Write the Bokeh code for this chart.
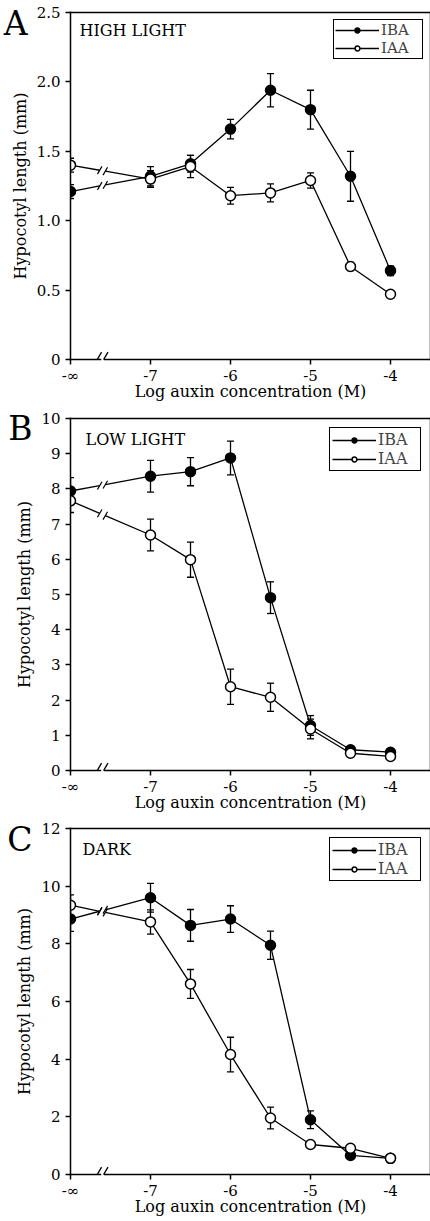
import numpy as np
from bokeh.plotting import figure
from bokeh.models import FixedTicker, Label, Legend, LegendItem, Range1d, LinearAxis
from bokeh.layouts import column
from bokeh.embed import file_html
from bokeh.resources import INLINE

# ---------------- data ----------------
# x positions: log auxin concentration; the no-auxin control ("-∞") is drawn at -8
X_POS = [-8, -7, -6.5, -6, -5.5, -5, -4.5, -4]
X_TICKS = [-8, -7, -6, -5, -4]
X_TICK_LABELS = ["-∞", "-7", "-6", "-5", "-4"]

# A: high light
A_IBA = [1.21, 1.32, 1.41, 1.66, 1.94, 1.80, 1.32, 0.64]
A_IBA_ERR = [0.05, 0.07, 0.06, 0.07, 0.12, 0.14, 0.18, 0.035]
A_IAA = [1.40, 1.30, 1.39, 1.18, 1.20, 1.29, 0.67, 0.47]
A_IAA_ERR = [0.05, 0.06, 0.08, 0.06, 0.065, 0.055, 0.03, 0.02]
A_Y_TICKS = [0, 0.5, 1.0, 1.5, 2.0, 2.5]
A_Y_LABELS = ["0", "0.5", "1.0", "1.5", "2.0", "2.5"]

# B: low light
B_IBA = [7.94, 8.36, 8.49, 8.88, 4.91, 1.28, 0.59, 0.52]
B_IBA_ERR = [0.38, 0.45, 0.40, 0.48, 0.45, 0.28, 0.05, 0.05]
B_IAA = [7.66, 6.69, 5.99, 2.38, 2.08, 1.18, 0.49, 0.40]
B_IAA_ERR = [0.33, 0.45, 0.50, 0.50, 0.40, 0.28, 0.05, 0.05]
B_Y_TICKS = [0, 1, 2, 3, 4, 5, 6, 7, 8, 9, 10]
B_Y_LABELS = ["0", "1", "2", "3", "4", "5", "6", "7", "8", "9", "10"]

# C: dark
C_IBA = [8.86, 9.60, 8.64, 8.86, 7.95, 1.90, 0.66, 0.56]
C_IBA_ERR = [0.43, 0.50, 0.55, 0.46, 0.49, 0.31, 0.05, 0.05]
C_IAA = [9.34, 8.76, 6.61, 4.16, 1.96, 1.04, 0.91, 0.56]
C_IAA_ERR = [0.36, 0.42, 0.50, 0.60, 0.38, 0.05, 0.05, 0.05]
C_Y_TICKS = [0, 2, 4, 6, 8, 10, 12]
C_Y_LABELS = ["0", "2", "4", "6", "8", "10", "12"]

SERIES = ["IBA", "IAA"]
X_LABEL = "Log auxin concentration (M)"
Y_LABEL = "Hypocotyl length (mm)"

FONT = "DejaVu Serif"
BREAK_X = -7.6
GAP = 0.035      # gap in data lines at the break
GAP_AX = 0.03    # gap in the x axis line at the break
X_END = -3.5
BOTTOM = 40


def draw_series(p, y, err, fill):
    xs = np.array(X_POS, dtype=float)
    y = np.array(y, dtype=float)
    err = np.array(err, dtype=float)
    p.segment(x0=xs, y0=y - err, x1=xs, y1=y + err, line_color="black", line_width=1.3)
    p.scatter(np.concatenate([xs, xs]), np.concatenate([y - err, y + err]), marker="dash",
              size=7, line_color="black", line_width=1.3)
    main = p.line(xs[1:], y[1:], line_color="black", line_width=1.3)

    def yi(x):
        return y[0] + (y[1] - y[0]) * (x - xs[0]) / (xs[1] - xs[0])
    xa, xb = BREAK_X - GAP, BREAK_X + GAP
    p.line([xs[0], xa], [y[0], yi(xa)], line_color="black", line_width=1.3)
    p.line([xb, xs[1]], [yi(xb), y[1]], line_color="black", line_width=1.3)
    p.scatter([xa, xb], [yi(xa), yi(xb)], marker="dash", size=9, angle=np.pi / 3,
              line_color="black", line_width=1.2)
    pts = p.scatter(xs, y, size=10, marker="circle", fill_color=fill,
                    line_color="black", line_width=1.5)
    return main, pts


def base_style(ax):
    ax.axis_line_width = 1.5
    ax.axis_line_color = "black"
    ax.axis_line_cap = "square"
    ax.major_tick_line_width = 1.5
    ax.major_tick_line_color = "black"
    ax.major_tick_in = 0
    ax.major_tick_out = 5
    ax.minor_tick_line_color = None
    ax.major_label_text_font = FONT
    ax.major_label_text_font_size = "15px"
    ax.major_label_text_color = "black"
    ax.axis_label_text_font = FONT
    ax.axis_label_text_font_size = "16px"
    ax.axis_label_text_font_style = "normal"
    ax.axis_label_text_color = "black"


def line_only_axis(bounds="auto"):
    ax = LinearAxis(ticker=FixedTicker(ticks=[]), bounds=bounds)
    base_style(ax)
    ax.major_tick_out = 0
    ax.major_label_standoff = 0
    ax.major_label_text_font_size = "1px"
    return ax


def panel(letter, title, ymax, yticks, ylabels, iba, iba_err, iaa, iaa_err,
          fh, top, letter_dy, title_dx, title_dy, leg_font, leg_pad, leg_margin):
    p = figure(frame_width=360, frame_height=fh, x_range=Range1d(-8, X_END),
               y_range=Range1d(0, ymax), x_axis_type=None, y_axis_type=None,
               output_backend="svg", toolbar_location=None,
               min_border_left=68, min_border_right=2, min_border_top=top,
               min_border_bottom=BOTTOM)
    p.outline_line_color = None

    # ---- left: y axis, then panel letter (outermost)
    yax = LinearAxis(ticker=FixedTicker(ticks=yticks),
                     major_label_overrides=dict(zip(yticks, ylabels)), axis_label=Y_LABEL)
    base_style(yax)
    yax.major_label_standoff = 5
    yax.axis_label_standoff = 4
    p.add_layout(yax, "left")

    lt = ymax * (1 - letter_dy / fh)
    lax = LinearAxis(ticker=FixedTicker(ticks=[lt]), major_label_overrides={lt: letter})
    base_style(lax)
    lax.axis_line_color = None
    lax.major_tick_line_color = None
    lax.major_tick_out = 0
    lax.major_label_standoff = -20
    lax.major_label_text_font_size = "33px"
    p.add_layout(lax, "left")

    # ---- bottom: broken axis line, then ticks + labels
    p.add_layout(line_only_axis((BREAK_X + GAP_AX, X_END)), "below")
    p.add_layout(line_only_axis((-8, BREAK_X - GAP_AX)), "below")
    xax = LinearAxis(ticker=FixedTicker(ticks=X_TICKS),
                     major_label_overrides=dict(zip(X_TICKS, X_TICK_LABELS)),
                     axis_label=X_LABEL)
    base_style(xax)
    xax.axis_line_color = None
    xax.major_label_standoff = 2
    xax.axis_label_standoff = -6
    p.add_layout(xax, "below")

    # ---- frame lines on top and right
    p.add_layout(line_only_axis(), "above")
    p.add_layout(line_only_axis(), "right")

    # break marks sitting on the x axis
    yb = ymax * 3.5 / fh
    p.scatter([BREAK_X - GAP_AX - 0.01, BREAK_X + GAP_AX + 0.01], [yb, yb], marker="dash",
              size=9, angle=np.pi / 3, line_color="black", line_width=1.3)

    r_iba = draw_series(p, iba, iba_err, "black")
    r_iaa = draw_series(p, iaa, iaa_err, "white")

    legend = Legend(items=[LegendItem(label=SERIES[0], renderers=list(r_iba)),
                           LegendItem(label=SERIES[1], renderers=list(r_iaa))],
                    location="top_right", border_line_color="black", border_line_width=1.5,
                    border_line_alpha=1, background_fill_alpha=1, label_text_font=FONT,
                    label_text_font_size=leg_font, glyph_width=44, glyph_height=12,
                    label_height=12, label_width=40, label_standoff=2, padding=leg_pad,
                    spacing=0, margin=leg_margin)
    p.add_layout(legend)

    p.add_layout(Label(x=-8, y=ymax, x_offset=title_dx, y_offset=-title_dy, text=title,
                       text_font=FONT, text_font_size="16px", text_baseline="alphabetic",
                       text_color="black"))
    return p


pa = panel("A", "HIGH LIGHT", 2.5, A_Y_TICKS, A_Y_LABELS, A_IBA, A_IBA_ERR, A_IAA, A_IAA_ERR,
           347, 12, 11, 9, 18, "15px", 1, 7)
pb = panel("B", "LOW LIGHT", 10, B_Y_TICKS, B_Y_LABELS, B_IBA, B_IBA_ERR, B_IAA, B_IAA_ERR,
           352, 15, 10, 15, 21, "16px", 2, 9)
pc = panel("C", "DARK", 12, C_Y_TICKS, C_Y_LABELS, C_IBA, C_IBA_ERR, C_IAA, C_IAA_ERR,
           346, 14, 11, 12, 21, "16px", 2, 9)

layout = column(pa, pb, pc, spacing=0)
open("out.html", "w").write(file_html(layout, INLINE))
